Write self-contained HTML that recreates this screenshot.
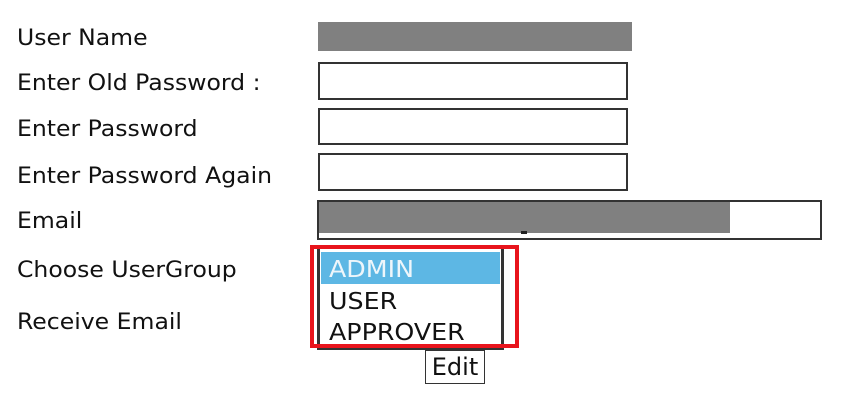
<!DOCTYPE html>
<html><head><style>
body{margin:0;width:845px;height:413px;background:#fff;position:relative;overflow:hidden;font-family:"DejaVu Sans","Liberation Sans",sans-serif;color:#111}
.l{position:absolute;left:17px;font-size:22px;line-height:22px;white-space:nowrap;transform:scaleX(1.07);transform-origin:left top}
.b{position:absolute;box-sizing:border-box;border:2px solid #333;background:#fff}
.g{position:absolute;background:#808080}
.o{position:absolute;left:329px;font-size:23px;line-height:23px;white-space:nowrap;transform:scaleX(1.1);transform-origin:left top}
</style></head><body>
<div class="l" style="top:28px">User Name</div>
<div class="l" style="top:73px">Enter Old Password :</div>
<div class="l" style="top:119px">Enter Password</div>
<div class="l" style="top:166px">Enter Password Again</div>
<div class="l" style="top:211px">Email</div>
<div class="l" style="top:260px">Choose UserGroup</div>
<div class="l" style="top:312px">Receive Email</div>

<div class="g" style="left:318px;top:22px;width:314px;height:29px"></div>
<div class="b" style="left:318px;top:62px;width:310px;height:38px"></div>
<div class="b" style="left:318px;top:108px;width:310px;height:37px"></div>
<div class="b" style="left:318px;top:153px;width:310px;height:38px"></div>
<div class="b" style="left:317px;top:200px;width:505px;height:40px"></div>
<div class="g" style="left:319px;top:202px;width:411px;height:31px"></div>
<div style="position:absolute;left:521px;top:231px;width:6px;height:3px;background:#222"></div>

<div style="position:absolute;left:317px;top:248px;width:187px;height:102px;box-sizing:border-box;border-left:3px solid #333;border-right:3px solid #333;border-bottom:3px solid #333;background:#fff"></div>
<div style="position:absolute;left:321px;top:252px;width:179px;height:32px;background:#5db7e4"></div>
<div class="o" style="top:259px;color:#eef6fb">ADMIN</div>
<div class="o" style="top:291px">USER</div>
<div class="o" style="top:322px">APPROVER</div>
<div style="position:absolute;left:310px;top:245px;width:209px;height:103px;box-sizing:border-box;border:4px solid #e8141c"></div>

<div style="position:absolute;left:425px;top:350px;width:60px;height:34px;box-sizing:border-box;border:1.5px solid #333;background:#fff;font-size:24px;line-height:32px;text-align:center">Edit</div>
</body></html>
